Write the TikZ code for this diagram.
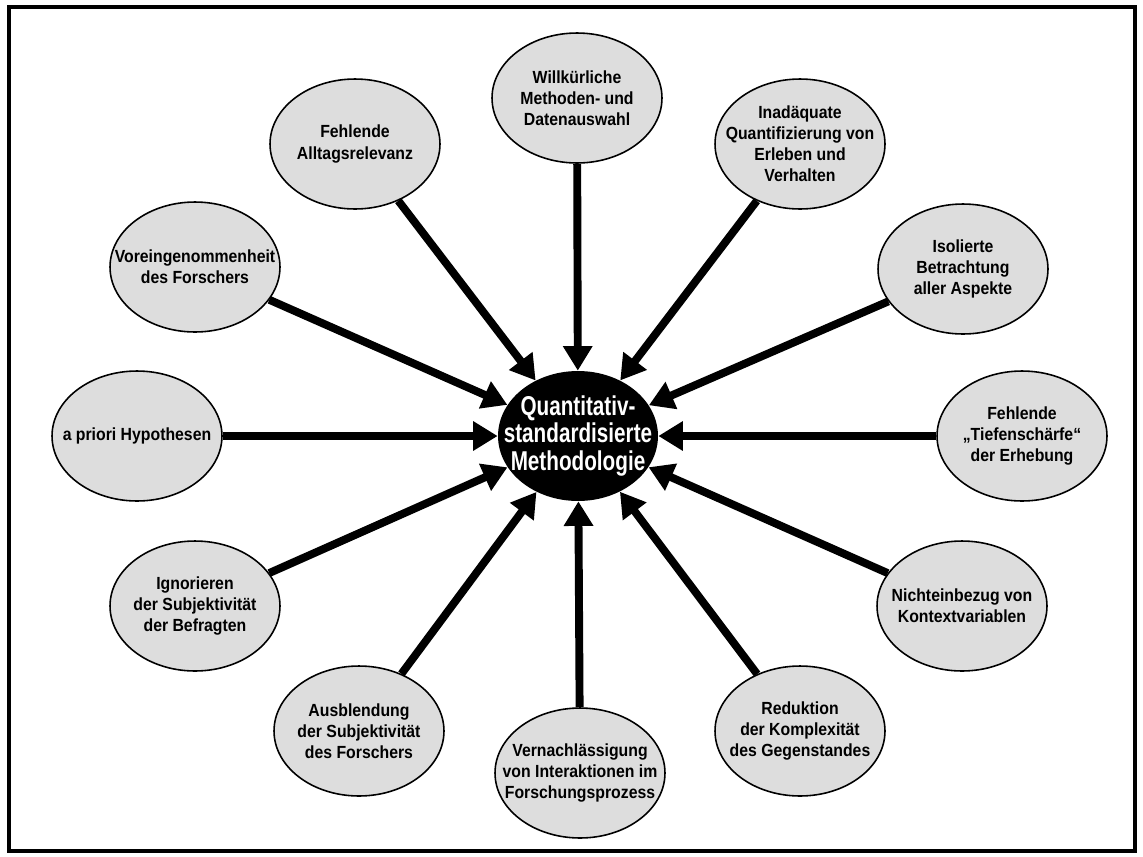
\documentclass[tikz,border=0pt]{standalone}
\usepackage{fontspec}
\setmainfont{Liberation Sans}
\newfontfamily\bubblefont[FakeStretch=0.9]{Liberation Sans}
\newfontfamily\hubfont[FakeStretch=0.76]{Liberation Sans}
\usepackage{tikz}
\usetikzlibrary{arrows.meta,shapes.geometric}
\definecolor{bubblegray}{RGB}{221,221,221}
\tikzset{
  bubble/.style={ellipse,draw=black,line width=0.9pt,fill=bubblegray,
    minimum width=3.4cm,minimum height=2.6cm,inner xsep=-6mm,inner ysep=-3mm,
    align=center,font=\bubblefont\bfseries\fontsize{10}{12}\selectfont},
  hubnode/.style={ellipse,fill=black,text=white,
    minimum width=3.2cm,minimum height=2.6cm,inner xsep=-6mm,inner ysep=-3mm,
    align=center,font=\hubfont\bfseries\fontsize{15.5}{15.5}\selectfont},
  spoke/.style={line width=4.5pt,-{Triangle[length=14pt,width=16pt]}}
}

\begin{document}
\begin{tikzpicture}[x=0.02cm,y=-0.02cm]
  \useasboundingbox (0,0) rectangle (1143,856);
  \draw[line width=2.2pt] (9,7) rectangle (1135,851);
  \node[hubnode] (hub) at (578,436) {Quantitativ-\\standardisierte\\Methodologie};
  % Kritikpunkte im Kreis
  \node[bubble] (willkuer) at (577,98) {Willkürliche\\Methoden- und\\Datenauswahl};
  \node[bubble] (alltag) at (355,144) {Fehlende\\Alltagsrelevanz};
  \node[bubble] (quanti) at (800,144) {Inadäquate\\Quantifizierung von\\Erleben und\\Verhalten};
  \node[bubble] (vorein) at (195,267) {Voreingenommenheit\\des Forschers};
  \node[bubble] (isoliert) at (963,269) {Isolierte\\Betrachtung\\aller Aspekte};
  \node[bubble] (apriori) at (137,436) {a priori Hypothesen};
  \node[bubble] (tiefe) at (1022,436) {Fehlende\\„Tiefenschärfe“\\der Erhebung};
  \node[bubble] (ignor) at (195,606) {Ignorieren\\der Subjektivität\\der Befragten};
  \node[bubble] (kontext) at (962,606) {Nichteinbezug von\\Kontextvariablen};
  \node[bubble] (ausbl) at (359,731) {Ausblendung\\der Subjektivität\\des Forschers};
  \node[bubble] (interakt) at (580,773) {Vernachlässigung\\von Interaktionen im\\Forschungsprozess};
  \node[bubble] (reduk) at (800,731) {Reduktion\\der Komplexität\\des Gegenstandes};
  \foreach \src in {willkuer,alltag,quanti,vorein,isoliert,apriori,tiefe,ignor,kontext,ausbl,interakt,reduk}
    \draw[spoke] (\src) -- (hub);
\end{tikzpicture}
\end{document}
